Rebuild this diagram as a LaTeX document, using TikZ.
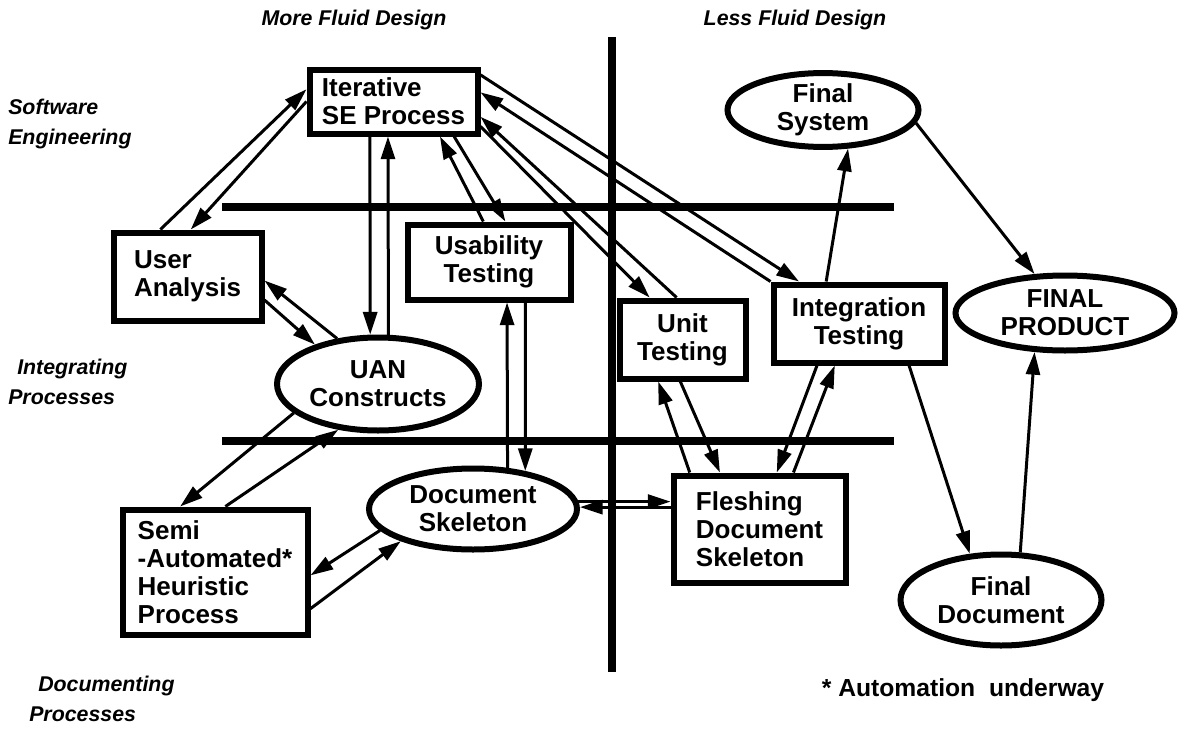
\documentclass[tikz,border=0pt]{standalone}
\usepackage{fontspec}
\setmainfont{Liberation Sans}
\usetikzlibrary{arrows.meta,shapes.geometric}

\newcommand{\boxfont}{\fontsize{19.5pt}{21pt}\selectfont\bfseries}
\newcommand{\lblfont}{\fontsize{16pt}{22pt}\selectfont\bfseries\itshape}

\begin{document}
\begin{tikzpicture}[x=0.75pt,y=0.75pt,yscale=-1,xscale=1,
	procbox/.style={draw,line width=4.5pt,inner sep=0pt,align=left,font=\boxfont},
	procell/.style={ellipse,draw,line width=4.5pt,inner sep=0pt,align=center,font=\boxfont},
	arr/.style={-{Triangle[length=17pt,width=10.5pt]},line width=2.25pt},
	sepline/.style={line width=6.5pt},
	lbl/.style={inner sep=0pt,font=\lblfont}]
	\useasboundingbox (0,0) rectangle (1181,728);
	
	%Separators
	\draw[sepline] (612,37) -- (612,672);
	\draw[sepline] (222,207) -- (894,207);
	\draw[sepline] (222,441) -- (894,441);
	
	%Boxes
	\node[procbox,minimum width=126pt,minimum height=48pt] (se) at (393.5,101.5) {Iterative\\SE Process};
	\node[procbox,minimum width=111pt,minimum height=66pt] (user) at (187.5,276.5) {User\\Analysis};
	\node[procbox,align=center,minimum width=122.25pt,minimum height=56.25pt] (usab) at (489,262) {Usability\\Testing};
	\node[procbox,align=center,minimum width=94.5pt,minimum height=58.5pt] (unit) at (682.5,339.5) {Unit\\Testing};
	\node[procbox,align=center,minimum width=128.25pt,minimum height=58.5pt] (integ) at (859,323.5) {Integration\\Testing};
	\node[procbox,minimum width=129pt,minimum height=80.25pt] (flesh) at (759.5,529) {Fleshing\\Document\\Skeleton};
	\node[procbox,minimum width=138.75pt,minimum height=93.75pt] (semi) at (215,572) {Semi\\-Automated*\\Heuristic\\Process};
	
	%Ellipses
	\node[procell,minimum width=143.25pt,minimum height=51.75pt] (finsys) at (823,110) {Final\\System};
	\node[procell,minimum width=151.5pt,minimum height=69.75pt] (uan) at (378,384) {UAN\\Constructs};
	\node[procell,minimum width=156pt,minimum height=60.75pt] (docsk) at (473,509) {Document\\Skeleton};
	\node[procell,minimum width=164.25pt,minimum height=56.25pt] (finprod) at (1065,313) {FINAL\\PRODUCT};
	\node[procell,minimum width=150.75pt,minimum height=68.25pt] (findoc) at (1001,600) {Final\\Document};
	
	% Text Node
	\node[lbl] (morefluid) at (354,20) {More Fluid Design};
	\node[lbl] (lessfluid) at (795,20) {Less Fluid Design};
	\node[lbl,anchor=west,align=left] (swlbl) at (8,124) {Software\\Engineering};
	\node[lbl,anchor=west,align=left] (intlbl) at (8,382) {\hspace*{6.75pt}Integrating\\Processes};
	\node[lbl,anchor=west,align=left] (doclbl) at (29,699) {\hspace*{6.75pt}Documenting\\Processes};
	\node[inner sep=0pt,font=\fontsize{18.5pt}{21pt}\selectfont\bfseries] (autonote) at (963,690) {* Automation~~underway};
	
	%Arrows, software engineering row
	\draw[arr] (user.120) -- (se.172);
	\draw[arr] (se.180) -- (user.86);
	\draw[arr] (se.-124) -- (uan.99);
	\draw[arr] (uan.78) -- (se.-99);
	\draw[arr] (usab.98) -- (se.-37);
	\draw[arr] (se.-30) -- (usab.68);
	\draw[arr] (se.-16) -- (unit.128);
	\draw[arr] (unit.98) -- (se.-10);
	\draw[arr] (se.17) -- (integ.145);
	\draw[arr] (integ.north west) -- (se.6);
	\draw[arr] (integ.128) -- (finsys.-57);
	\draw[arr] (finsys.-8) -- (finprod.128);
	
	%Arrows, integrating row
	\draw[arr] (uan.132) -- (user.-3);
	\draw[arr] (user.-17) -- (uan.148);
	\draw[arr] (usab.-48) -- (docsk.36);
	\draw[arr] (docsk.50) -- (usab.-66);
	\draw[arr] (integ.-40) -- (findoc.124);
	\draw[arr] (findoc.68) -- (finprod.-128);
	
	%Arrows, documenting row
	\draw[arr] (uan.-161) -- (semi.118);
	\draw[arr] (semi.81) -- (uan.-131);
	\draw[arr] (docsk.-167) -- (semi.-2);
	\draw[arr] (semi.-21) -- (docsk.-156);
	\draw[arr] (docsk.4) -- (docsk.4 -| flesh.west);
	\draw[arr] (flesh.west |- docsk.1) -- (docsk.1);
	\draw[arr] (flesh.141) -- (unit.240);
	\draw[arr] (unit.-93) -- (flesh.125);
	\draw[arr] (integ.-135) -- (flesh.73);
	\draw[arr] (flesh.59) -- (integ.-120);
	
\end{tikzpicture}
\end{document}
